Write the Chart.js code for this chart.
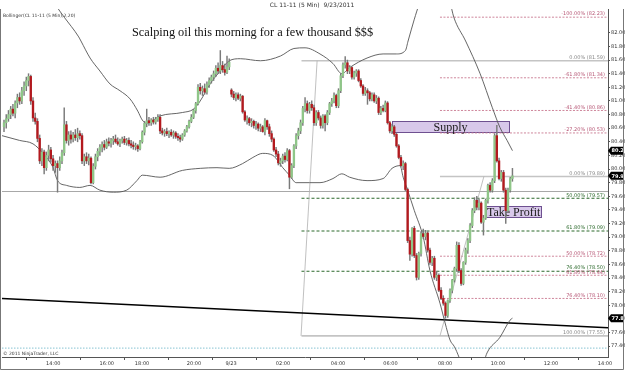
<!DOCTYPE html>
<html>
<head>
<meta charset="utf-8">
<script src="https://cdn.jsdelivr.net/npm/chart.js@4.4.1/dist/chart.umd.min.js"></script>
<style>
  html, body { margin: 0; padding: 0; background: #fff; }
  #wrap { width: 625px; height: 371px; }
</style>
</head>
<body>
<div id="wrap"><canvas id="chart" width="625" height="371"></canvas></div>
<script>
// 5 min bars, CL 11-11, index 0 = first bar on the left
const opens = [
  80.62,80.68,80.74,80.80,80.88,80.82,80.97,81.05,81.00,81.15,81.22,81.30,81.36,81.00,80.75,80.70,80.45,80.12,80.25,80.02,
  80.20,80.28,80.15,80.05,80.08,80.02,80.12,80.24,80.65,80.42,80.50,80.44,80.50,80.46,80.52,80.49,80.12,80.18,80.12,80.16,
  79.80,80.04,80.18,80.26,80.32,80.36,80.32,80.40,80.38,80.42,80.44,80.40,80.37,80.42,80.44,80.39,80.42,80.37,80.35,80.33,
  80.34,80.30,80.40,80.54,80.67,80.71,80.68,80.72,80.69,80.73,80.76,80.56,80.53,80.55,80.52,80.54,80.50,80.53,80.48,80.46,
  80.44,80.50,80.56,80.62,80.70,80.76,80.86,80.96,81.20,81.15,81.18,81.13,81.24,81.30,81.35,81.40,81.48,81.44,81.52,81.46,
  81.42,81.50,
  81.16,81.10,81.05,81.09,81.04,81.07,80.84,80.72,80.74,80.68,80.70,80.64,80.66,80.60,80.62,80.55,80.71,80.62,80.52,
  80.44,80.28,80.22,80.09,80.12,80.19,80.14,80.27,79.88,80.05,80.34,80.49,80.56,80.68,80.89,80.96,80.86,80.95,80.90,80.68,
  80.83,80.75,80.64,80.78,80.68,80.83,80.96,81.00,81.08,80.93,81.15,81.37,81.53,81.56,81.44,81.49,81.35,81.41,81.44,81.30,
  81.22,81.11,81.15,81.12,81.03,81.09,81.00,81.04,80.83,80.89,80.86,80.97,80.68,80.56,80.62,80.51,80.34,80.17,80.05,80.08,
  79.70,78.95,78.75,79.13,78.73,78.41,78.76,79.05,79.01,79.06,78.81,78.63,78.69,78.41,78.44,78.22,78.10,78.03,77.85,78.07,
  78.22,78.37,78.54,78.88,78.51,78.32,78.63,78.81,78.95,79.17,79.39,79.54,79.44,79.50,79.22,79.28,79.54,79.76,79.69,79.83,
  80.49,80.12,79.86,79.95,79.69,79.39,79.69,79.86
];
const highs = [
  80.72,80.80,80.86,80.92,80.95,81.00,81.10,81.12,81.20,81.28,81.35,81.40,81.38,81.05,80.82,80.74,80.50,80.30,80.28,80.25,
  80.35,80.32,80.20,80.12,80.12,80.18,80.28,80.90,80.70,80.55,80.56,80.54,80.58,80.60,80.56,80.52,80.22,80.24,80.22,80.18,
  80.08,80.22,80.30,80.36,80.40,80.42,80.44,80.46,80.45,80.48,80.50,80.46,80.44,80.47,80.48,80.45,80.46,80.42,80.40,80.38,
  80.36,80.42,80.56,80.70,80.88,80.76,80.74,80.76,80.76,80.80,80.80,80.60,80.58,80.60,80.56,80.58,80.56,80.55,80.52,80.50,
  80.52,80.58,80.64,80.72,80.80,80.88,80.98,81.24,81.26,81.22,81.25,81.28,81.34,81.38,81.44,81.52,81.56,81.74,81.58,81.54,
  81.66,81.62,
  81.18,81.14,81.12,81.12,81.10,81.08,80.86,80.78,80.76,80.74,80.72,80.70,80.68,80.66,80.64,80.74,80.72,80.66,80.56,
  80.46,80.32,80.26,80.16,80.22,80.24,80.30,80.29,80.08,80.36,80.52,80.60,80.72,80.92,81.05,81.00,80.98,81.00,80.94,80.86,
  80.86,80.78,80.80,80.80,80.86,80.98,81.04,81.12,81.10,81.18,81.40,81.56,81.65,81.60,81.52,81.50,81.44,81.46,81.46,81.33,
  81.24,81.20,81.18,81.14,81.12,81.12,81.08,81.06,80.92,80.94,81.00,80.99,80.70,80.66,80.64,80.53,80.36,80.20,80.12,80.10,
  79.72,79.00,79.14,79.16,78.76,78.78,79.08,79.12,79.10,79.08,78.84,78.72,78.72,78.50,78.46,78.26,78.14,78.05,78.08,78.24,
  78.38,78.56,78.93,78.92,78.54,78.64,78.84,78.98,79.20,79.42,79.58,79.60,79.56,79.52,79.32,79.56,79.78,79.80,79.86,80.52,
  80.64,80.16,79.98,79.98,79.72,79.72,79.88,80.01
];
const lows = [
  80.55,80.60,80.70,80.74,80.78,80.75,80.90,80.95,80.96,81.08,81.15,81.22,80.95,80.70,80.66,80.40,80.08,80.05,79.93,79.98,
  80.12,80.10,79.98,79.95,79.66,79.98,80.08,80.20,80.38,80.35,80.38,80.40,80.42,80.40,80.44,80.08,80.05,80.08,80.06,79.78,
  79.78,80.00,80.12,80.20,80.25,80.28,80.30,80.34,80.32,80.36,80.38,80.35,80.33,80.38,80.36,80.35,80.34,80.31,80.29,80.28,
  80.26,80.28,80.38,80.50,80.62,80.64,80.64,80.66,80.66,80.70,80.52,80.50,80.48,80.49,80.46,80.48,80.45,80.45,80.42,80.40,
  80.42,80.48,80.54,80.60,80.68,80.74,80.82,80.94,81.10,81.08,81.10,81.10,81.20,81.26,81.30,81.36,81.40,81.40,81.42,81.38,
  81.40,81.46,
  81.06,81.02,81.00,81.02,81.00,80.82,80.70,80.66,80.64,80.62,80.60,80.58,80.56,80.55,80.54,80.50,80.58,80.48,80.40,
  80.26,80.18,80.06,80.04,80.08,80.10,80.12,79.71,79.86,80.02,80.30,80.44,80.52,80.64,80.84,80.82,80.82,80.86,80.64,80.64,
  80.72,80.60,80.60,80.56,80.65,80.80,80.92,80.97,80.90,80.90,81.12,81.34,81.48,81.40,81.40,81.32,81.32,81.36,81.28,81.20,
  81.08,81.08,80.95,81.00,81.00,80.98,80.96,80.80,80.80,80.84,80.84,80.66,80.53,80.52,80.48,80.32,80.15,80.03,79.99,79.68,
  78.92,78.66,78.72,78.70,78.37,78.38,78.72,78.98,78.96,78.78,78.60,78.58,78.38,78.36,78.20,78.08,78.00,77.81,77.82,78.04,
  78.18,78.34,78.50,78.48,78.29,78.30,78.60,78.76,78.92,79.14,79.36,79.40,79.40,79.20,79.03,79.26,79.50,79.66,79.66,79.80,
  80.10,79.84,79.82,79.66,79.20,79.36,79.66,79.82
];
const closes = [
  80.68,80.74,80.80,80.88,80.82,80.97,81.05,81.00,81.15,81.22,81.30,81.36,81.00,80.75,80.70,80.45,80.12,80.25,80.02,80.20,
  80.28,80.15,80.05,80.08,80.02,80.12,80.24,80.65,80.42,80.50,80.44,80.50,80.46,80.52,80.49,80.12,80.18,80.12,80.16,79.80,
  80.04,80.18,80.26,80.32,80.36,80.32,80.40,80.38,80.42,80.44,80.40,80.37,80.42,80.44,80.39,80.42,80.37,80.35,80.33,80.34,
  80.30,80.40,80.54,80.67,80.71,80.68,80.72,80.69,80.73,80.76,80.56,80.53,80.55,80.52,80.54,80.50,80.53,80.48,80.46,80.44,
  80.50,80.56,80.62,80.70,80.76,80.86,80.96,81.20,81.15,81.18,81.13,81.24,81.30,81.35,81.40,81.48,81.44,81.52,81.46,81.42,
  81.50,81.57,
  81.10,81.05,81.09,81.04,81.07,80.84,80.72,80.74,80.68,80.70,80.64,80.66,80.60,80.62,80.55,80.71,80.62,80.52,80.44,
  80.28,80.22,80.09,80.12,80.19,80.14,80.27,79.88,80.05,80.34,80.49,80.56,80.68,80.89,80.96,80.86,80.95,80.90,80.68,80.83,
  80.75,80.64,80.78,80.68,80.83,80.96,81.00,81.08,80.93,81.15,81.37,81.53,81.56,81.44,81.49,81.35,81.41,81.44,81.30,81.22,
  81.11,81.15,81.12,81.03,81.09,81.00,81.04,80.83,80.89,80.86,80.97,80.68,80.56,80.62,80.51,80.34,80.17,80.05,80.08,79.70,
  78.95,78.75,79.13,78.73,78.41,78.76,79.05,79.01,79.06,78.81,78.63,78.69,78.41,78.44,78.22,78.10,78.03,77.85,78.07,78.22,
  78.37,78.54,78.88,78.51,78.32,78.63,78.81,78.95,79.17,79.39,79.54,79.44,79.50,79.22,79.28,79.54,79.76,79.69,79.83,80.49,
  80.12,79.86,79.95,79.69,79.39,79.69,79.86,79.90
];

// Bollinger band at a set of bar positions
const upperIdx = [-0.9,10,20,25,27,33.5,34.5,38.6,43,47.5,52,56.5,60,62,64,70,80,85,88,92.4,97,101,106,115,124,130,135,141.7,147.5,151.5,155,162.8,170,176,180,181.2,184,186,192,197,200,201.7,207,213.5,219,222.4,225.6,228];
const upperVal = [82.95,82.80,82.55,82.32,82.23,81.94,81.88,81.63,81.44,81.25,81.15,81.03,80.85,80.72,80.67,80.78,80.83,80.88,81.00,81.25,81.44,81.59,81.62,81.59,81.66,81.77,81.78,81.69,81.55,81.40,81.49,81.63,81.69,81.69,81.74,81.88,82.20,82.40,82.75,82.70,82.45,82.23,81.88,81.40,80.90,80.61,80.42,80.27];
const lowerIdx = [-0.9,7,13,17.5,22,24,28,34,38.6,43,49,55,59.6,62,70,80,88,95.5,101,107,111.6,116,120.6,125,128,131,137,141.7,147.5,151.5,155,162.8,170,174,177.6,179,181,184,188,191,195.5,197.8,200,202,204,206,210,214,216.6,222.4,226.9,228];
const lowerVal = [80.49,80.42,80.37,80.23,80.02,79.83,79.76,79.73,79.76,79.69,79.66,79.69,79.83,79.91,79.88,79.98,80.01,80.02,80.01,80.08,80.17,80.23,80.20,80.02,79.91,79.80,79.80,79.80,79.86,79.93,79.88,79.83,79.86,80.01,80.05,79.88,79.69,79.39,79.00,78.51,78.03,77.74,77.49,77.39,77.24,77.05,76.95,77.05,77.30,77.53,77.78,77.81];

// Fibonacci retracements (two drawings)
const fibAPrices = [81.59, 79.57, 79.09, 78.50, 77.55];
const fibALabels = ['0.00% (81.59)', '50.00% (79.57)', '61.80% (79.09)', '76.40% (78.50)', '100.00% (77.55)'];
const fibAStart = 133.4;
const fibAAnchorIdx = [140.4, 133.2];
const fibAAnchorVal = [81.59, 77.55];
const fibBPrices = [82.23, 81.34, 80.86, 80.53, 79.89, 78.72, 78.44, 78.10];
const fibBLabels = ['-100.00% (82.23)', '-61.80% (81.34)', '-41.40% (80.86)', '-27.20% (80.53)', '0.00% (79.89)', '50.00% (78.72)', '61.80% (78.44)', '76.40% (78.10)'];
const fibBStart = 195.5;
const fibBAnchorIdx = [195.5, 215.2];
const fibBAnchorVal = [77.55, 79.89];

// other drawings
const trendIdx = [-0.9, 270.85];
const trendVal = [78.10, 77.67];
const levelGrey = 79.67;
const levelCyan = 77.37;
const zoneNames = ['Supply', 'Take Profit'];
const zoneFrom = [174, 216.1];
const zoneTo = [226.5, 240.8];
const zoneTop = [80.70, 79.45];
const zoneBottom = [80.535, 79.29];

// axes
const tickPos = [22.1, 46.1, 61.9, 85.2, 101.8, 125.1, 149.8, 173.3, 197.8, 221.5, 245.3, 269.5];
const tickLabels = ['14:00', '16:00', '18:00', '20:00', '9/23', '02:00', '04:00', '06:00', '08:00', '10:00', '12:00', '14:00'];
const priceTicks = [77.4, 77.6, 77.8, 78.0, 78.2, 78.4, 78.6, 78.8, 79.0, 79.2, 79.4, 79.6, 79.8, 80.0, 80.2, 80.4, 80.6, 80.8, 81.0, 81.2, 81.4, 81.6, 81.8, 82.0];

const X_MIN = -0.9, X_MAX = 270.85;
const UP = '#8fc688', DOWN = '#b3191e';

function hline(price, from, color, dash, width) {
  return {
    type: 'line', data: [{x: from, y: price}, {x: X_MAX, y: price}],
    borderColor: color, borderWidth: width || 1, borderDash: dash || [],
    pointRadius: 0, order: 10
  };
}
function isEdge(label) { return label.startsWith('0.00%') || label.startsWith('100.00%'); }

const datasets = [
  {
    type: 'bar', label: 'body', order: 1, grouped: false,
    data: opens.map((o, k) => ({x: k, y: [o, closes[k]]})),
    backgroundColor: opens.map((o, k) => closes[k] >= o ? UP : DOWN),
    barThickness: 1.7, minBarLength: 1, borderWidth: 0
  },
  {
    type: 'bar', label: 'wick', order: 2, grouped: false,
    data: highs.map((h, k) => ({x: k, y: [lows[k], h]})),
    backgroundColor: '#7a7a7a', barThickness: 0.8, borderWidth: 0
  },
  {
    type: 'line', label: 'upper', order: 5,
    data: upperIdx.map((v, k) => ({x: v, y: upperVal[k]})),
    borderColor: '#555', borderWidth: 0.9, pointRadius: 0, cubicInterpolationMode: 'monotone'
  },
  {
    type: 'line', label: 'lower', order: 5,
    data: lowerIdx.map((v, k) => ({x: v, y: lowerVal[k]})),
    borderColor: '#555', borderWidth: 0.9, pointRadius: 0, cubicInterpolationMode: 'monotone'
  },
  {
    type: 'line', label: 'trend', order: 6,
    data: trendIdx.map((v, k) => ({x: v, y: trendVal[k]})),
    borderColor: '#000', borderWidth: 1.4, pointRadius: 0
  },
  {
    type: 'line', label: 'fibA anchor', order: 9,
    data: fibAAnchorIdx.map((v, k) => ({x: v, y: fibAAnchorVal[k]})),
    borderColor: '#b0b0b0', borderWidth: 0.8, pointRadius: 0
  },
  {
    type: 'line', label: 'fibB anchor', order: 9,
    data: fibBAnchorIdx.map((v, k) => ({x: v, y: fibBAnchorVal[k]})),
    borderColor: '#b0b0b0', borderWidth: 0.8, pointRadius: 0
  },
  hline(levelGrey, X_MIN, '#a8a8a8', [], 1),
  hline(levelCyan, X_MIN, '#9fd0dc', [1.5, 1.5], 1.2)
];
fibAPrices.forEach((p, k) => {
  datasets.push(isEdge(fibALabels[k]) ? hline(p, fibAStart, '#c4c4c4', [], 1.6) : hline(p, fibAStart, '#2d6a2d', [3, 2], 1.1));
});
fibBPrices.forEach((p, k) => {
  datasets.push(isEdge(fibBLabels[k]) ? hline(p, fibBStart, '#c4c4c4', [], 1.4) : hline(p, fibBStart, '#c87890', [2, 1.5], 0.9));
});

const overlay = {
  id: 'overlay',
  beforeDatasetsDraw(chart) {
    const {ctx, scales: {x, y}} = chart;
    ctx.save();
    zoneNames.forEach((name, k) => {
      const x0 = x.getPixelForValue(zoneFrom[k]), x1 = x.getPixelForValue(zoneTo[k]);
      const y0 = y.getPixelForValue(zoneTop[k]), y1 = y.getPixelForValue(zoneBottom[k]);
      ctx.fillStyle = '#d8c8ea';
      ctx.fillRect(x0, y0, x1 - x0, y1 - y0);
      ctx.strokeStyle = '#6e5090';
      ctx.lineWidth = 1;
      ctx.strokeRect(Math.round(x0) + 0.5, Math.round(y0) + 0.5, Math.round(x1 - x0), Math.round(y1 - y0));
      ctx.fillStyle = '#1a1a1a';
      ctx.font = '12px "Liberation Serif", "DejaVu Serif", serif';
      ctx.textBaseline = 'middle';
      ctx.textAlign = name === 'Supply' ? 'center' : 'left';
      const tx = name === 'Supply' ? (x0 + x1) / 2 : x0 + 1;
      ctx.fillText(name, tx, (y0 + y1) / 2 + 0.5);
    });
    ctx.restore();
  },
  afterDatasetsDraw(chart) {
    const {ctx, chartArea: a, scales: {y}} = chart;
    ctx.save();
    ctx.font = '5px "DejaVu Sans", sans-serif';
    ctx.textAlign = 'right';
    ctx.textBaseline = 'bottom';
    const put = (p, label, color) => {
      ctx.fillStyle = color;
      ctx.fillText(label, a.right - 3, y.getPixelForValue(p) - 0.5);
    };
    fibAPrices.forEach((p, k) => put(p, fibALabels[k], isEdge(fibALabels[k]) ? '#888' : '#2d6a2d'));
    fibBPrices.forEach((p, k) => put(p, fibBLabels[k], isEdge(fibBLabels[k]) ? '#888' : '#b85a78'));
    ctx.restore();
  },
  afterDraw(chart) {
    const {ctx, chartArea: a, scales: {y}} = chart;
    ctx.save();
    // chart title and captions
    ctx.fillStyle = '#333';
    ctx.font = '6px "DejaVu Sans", sans-serif';
    ctx.textAlign = 'center';
    ctx.textBaseline = 'middle';
    ctx.fillText('CL 11-11 (5 Min)  9/23/2011', 312, 5);
    ctx.textAlign = 'left';
    ctx.font = '4.5px "DejaVu Sans", sans-serif';
    ctx.fillText('Bollinger(CL 11-11 (5 Min),2,20)', 3, a.top + 7);
    ctx.fillText('\u00a9 2011 NinjaTrader, LLC', 3, a.bottom - 3);
    ctx.fillStyle = '#111';
    ctx.font = '12.3px "Liberation Serif", "DejaVu Serif", serif';
    ctx.textBaseline = 'alphabetic';
    ctx.fillText('Scalping oil this morning for a few thousand $$$', 132, 36);
    // last-value markers on the price axis
    const marks = [upperVal[upperVal.length - 1], closes[closes.length - 1], lowerVal[lowerVal.length - 1]];
    ctx.font = 'bold 5px "DejaVu Sans", sans-serif';
    ctx.textBaseline = 'middle';
    marks.forEach(v => {
      const py = y.getPixelForValue(v);
      ctx.fillStyle = '#000';
      ctx.beginPath();
      ctx.moveTo(a.right, py);
      ctx.lineTo(a.right + 3, py - 4);
      ctx.lineTo(a.right + 16, py - 4);
      ctx.lineTo(a.right + 16, py + 4);
      ctx.lineTo(a.right + 3, py + 4);
      ctx.closePath();
      ctx.fill();
      ctx.fillStyle = '#fff';
      ctx.fillText(v.toFixed(2), a.right + 3.5, py + 0.5);
    });
    // outer frame
    ctx.strokeStyle = '#777';
    ctx.lineWidth = 1;
    ctx.beginPath();
    ctx.moveTo(0.5, a.top);
    ctx.lineTo(0.5, 369.5);
    ctx.lineTo(623.5, 369.5);
    ctx.lineTo(623.5, a.top);
    ctx.stroke();
    ctx.restore();
  }
};

new Chart(document.getElementById('chart').getContext('2d'), {
  type: 'bar',
  data: {datasets: datasets},
  options: {
    responsive: false,
    animation: false,
    parsing: true,
    layout: {padding: {left: 2, top: 9, right: 0, bottom: 0}},
    plugins: {legend: {display: false}, tooltip: {enabled: false}},
    scales: {
      x: {
        type: 'linear', min: X_MIN, max: X_MAX, offset: false,
        grid: {drawOnChartArea: false, drawTicks: true, tickLength: 3, color: '#555'},
        border: {display: true, color: '#555'},
        ticks: {
          font: {size: 5, family: 'DejaVu Sans'}, color: '#333', maxRotation: 0, autoSkip: false, padding: 1,
          callback: v => { const k = tickPos.indexOf(v); return k >= 0 ? tickLabels[k] : ''; }
        },
        afterBuildTicks: s => { s.ticks = tickPos.map(v => ({value: v})); },
        afterFit: s => { s.height = 14; }
      },
      y: {
        position: 'right', min: 77.24, max: 82.35,
        grid: {drawOnChartArea: false, drawTicks: true, tickLength: 2, color: '#555'},
        border: {display: true, color: '#555'},
        ticks: {
          font: {size: 5, family: 'DejaVu Sans'}, color: '#333', padding: 1,
          callback: v => v.toFixed(2)
        },
        afterBuildTicks: s => { s.ticks = priceTicks.map(v => ({value: v})); },
        afterFit: s => { s.width = 17; }
      }
    }
  },
  plugins: [overlay]
});
</script>
</body>
</html>
